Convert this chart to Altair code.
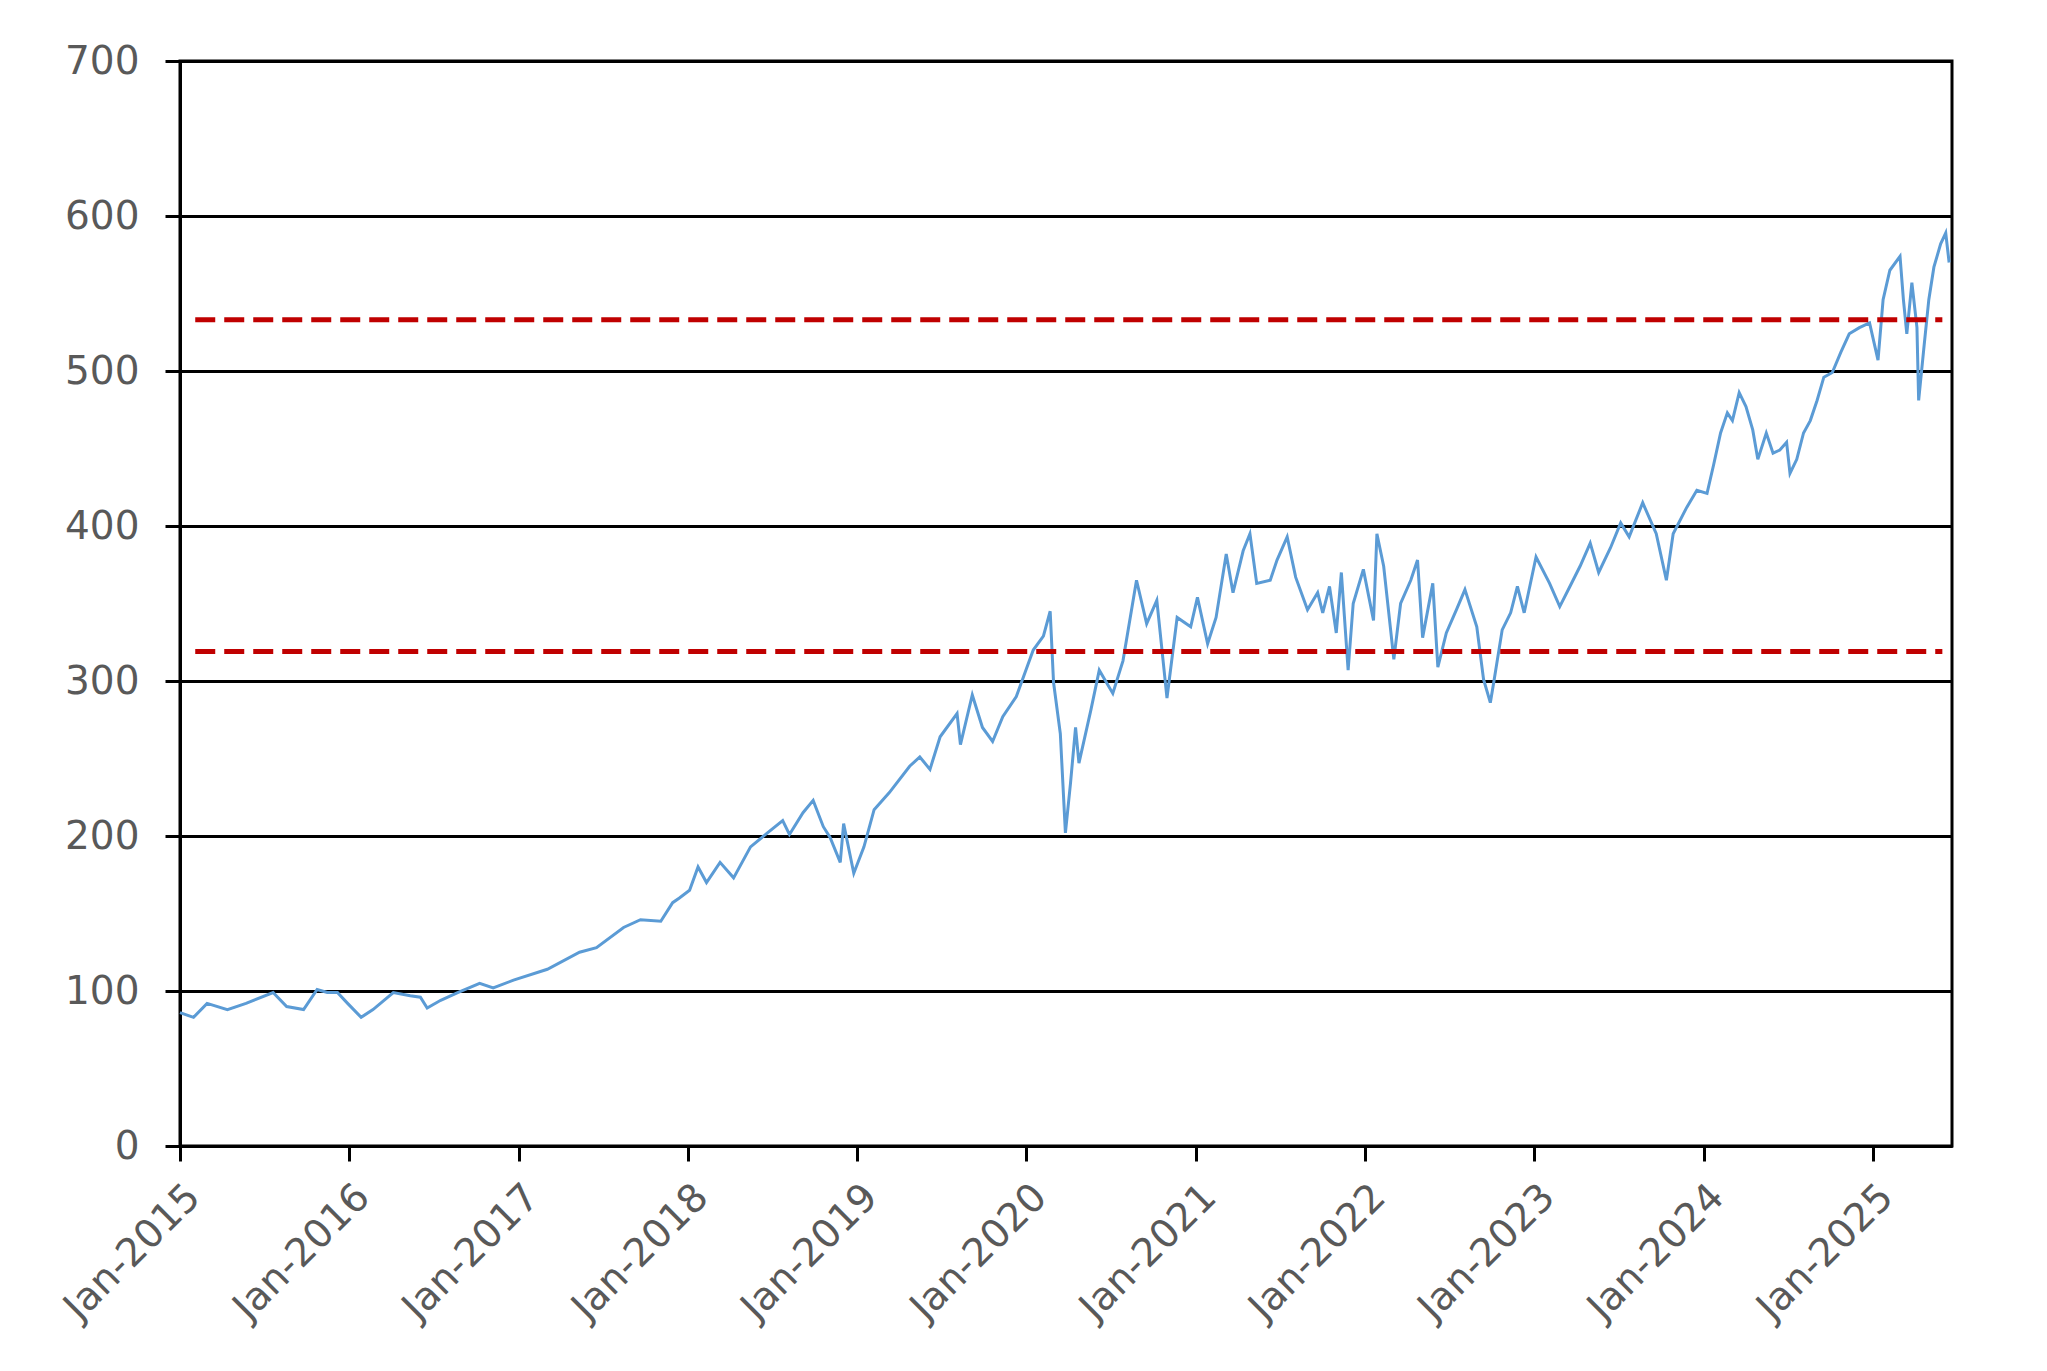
import altair as alt
import pandas as pd

# Position along the time axis in fractional years
t = [
    2015.00, 2015.08, 2015.16, 2015.28, 2015.39, 2015.55, 2015.63, 2015.73, 2015.81, 2015.87,
    2015.93, 2015.99, 2016.07, 2016.14, 2016.26, 2016.36, 2016.42, 2016.46, 2016.54, 2016.64,
    2016.77, 2016.85, 2016.97, 2017.17, 2017.36, 2017.46, 2017.62, 2017.72, 2017.84, 2017.91,
    2017.95, 2018.01, 2018.06, 2018.11, 2018.19, 2018.27, 2018.37, 2018.47, 2018.56, 2018.60,
    2018.68, 2018.74, 2018.80, 2018.84, 2018.90, 2018.92, 2018.98, 2019.04, 2019.10, 2019.19,
    2019.31, 2019.37, 2019.43, 2019.49, 2019.59, 2019.61, 2019.68, 2019.74, 2019.80, 2019.86,
    2019.94, 2020.04, 2020.10, 2020.14, 2020.16, 2020.20, 2020.23, 2020.26, 2020.29, 2020.31,
    2020.38, 2020.43, 2020.51, 2020.57, 2020.65, 2020.71, 2020.77, 2020.83, 2020.89, 2020.97,
    2021.01, 2021.07, 2021.12, 2021.18, 2021.22, 2021.28, 2021.32, 2021.36, 2021.44, 2021.48,
    2021.54, 2021.59, 2021.66, 2021.72, 2021.75, 2021.79, 2021.83, 2021.86, 2021.90, 2021.93,
    2021.99, 2022.05, 2022.07, 2022.11, 2022.17, 2022.21, 2022.27, 2022.31, 2022.34, 2022.40,
    2022.43, 2022.48, 2022.54, 2022.59, 2022.66, 2022.70, 2022.74, 2022.76, 2022.81, 2022.86,
    2022.90, 2022.94, 2023.01, 2023.09, 2023.15, 2023.21, 2023.27, 2023.33, 2023.38, 2023.45,
    2023.51, 2023.56, 2023.64, 2023.72, 2023.78, 2023.82, 2023.90, 2023.96, 2024.02, 2024.06,
    2024.10, 2024.14, 2024.17, 2024.21, 2024.25, 2024.29, 2024.32, 2024.37, 2024.41, 2024.45,
    2024.49, 2024.51, 2024.55, 2024.59, 2024.63, 2024.67, 2024.71, 2024.76, 2024.81, 2024.86,
    2024.92, 2024.98, 2025.03, 2025.06, 2025.10, 2025.16, 2025.18, 2025.20, 2025.23, 2025.26,
    2025.27, 2025.30, 2025.33, 2025.36, 2025.40, 2025.43, 2025.45,
]

price = [
    86, 83, 92, 88, 92, 99, 90, 88, 101, 99,
    99, 92, 83, 88, 99, 97, 96, 89, 94, 99,
    105, 102, 107, 114, 125, 128, 141, 146, 145, 157,
    160, 165, 180, 170, 183, 173, 193, 202, 210, 201,
    215, 223, 206, 199, 183, 208, 176, 193, 217, 228,
    245, 251, 243, 264, 279, 259, 291, 270, 261, 277,
    290, 320, 329, 345, 299, 266, 202, 234, 270, 247,
    281, 307, 292, 313, 365, 337, 352, 289, 341, 335,
    354, 324, 341, 382, 357, 384, 395, 363, 365, 378,
    393, 367, 346, 357, 344, 361, 331, 370, 307, 350,
    372, 339, 395, 374, 314, 350, 365, 378, 328, 363,
    309, 331, 346, 359, 335, 301, 286, 299, 333, 344,
    361, 344, 380, 363, 348, 361, 374, 389, 370, 386,
    402, 393, 415, 395, 365, 395, 412, 423, 421, 440,
    460, 473, 468, 486, 477, 462, 443, 460, 447, 449,
    454, 434, 443, 460, 468, 481, 496, 499, 512, 524,
    528, 531, 507, 546, 565, 574, 546, 524, 557, 528,
    481, 514, 546, 567, 582, 589, 570,
]

# Horizontal reference levels (dashed red)
levels = [533, 319]
level_start = [2015.09, 2015.09]
level_end = [2025.41, 2025.41]

years = list(range(2015, 2026))
y_ticks = [0, 100, 200, 300, 400, 500, 600, 700]

X_MIN, X_MAX = 2015.0, 2025.467

series = pd.DataFrame({"t": t, "price": price})
lv = pd.DataFrame({"level": levels, "x0": level_start, "x1": level_end})

FONT = "DejaVu Sans"
LABEL_COLOR = "#595959"

x_scale = alt.Scale(domain=[X_MIN, X_MAX], nice=False, zero=False)
y_scale = alt.Scale(domain=[0, 700], nice=False)

line = alt.Chart(series).mark_line(color="#5B9BD5", strokeWidth=3).encode(
    x=alt.X(
        "t:Q",
        scale=x_scale,
        axis=alt.Axis(
            values=years,
            labelExpr="'Jan-' + datum.value",
            labelAngle=-45,
            labelAlign="right",
            labelBaseline="top",
            labelFont=FONT,
            labelFontSize=39,
            labelColor=LABEL_COLOR,
            labelPadding=16,
            tickSize=15,
            tickColor="black",
            tickWidth=3,
            domainColor="black",
            domainWidth=3,
            grid=False,
            title=None,
            labelOverlap=False,
            labelFlush=False,
        ),
    ),
    y=alt.Y(
        "price:Q",
        scale=y_scale,
        axis=alt.Axis(
            values=y_ticks,
            labelFont=FONT,
            labelFontSize=39,
            labelColor=LABEL_COLOR,
            labelPadding=26,
            tickSize=15,
            tickColor="black",
            tickWidth=3,
            domainColor="black",
            domainWidth=3,
            grid=True,
            gridColor="black",
            gridWidth=3,
            title=None,
            labelOverlap=False,
            labelFlush=False,
        ),
    ),
)

rules = alt.Chart(lv).mark_rule(
    color="#C00000", strokeWidth=5, strokeDash=[20, 9]
).encode(
    x=alt.X("x0:Q", scale=x_scale),
    x2="x1:Q",
    y=alt.Y("level:Q", scale=y_scale),
)

chart = (
    alt.layer(line, rules)
    .properties(
        width=1772,
        height=1085,
        background="white",
        autosize=alt.AutoSizeParams(type="none"),
        padding={"left": 172, "top": 53, "right": 87, "bottom": 217},
    )
    .configure_view(stroke="black", strokeWidth=3)
)

chart.save("out.html", embed_options={"renderer": "svg", "actions": False})
